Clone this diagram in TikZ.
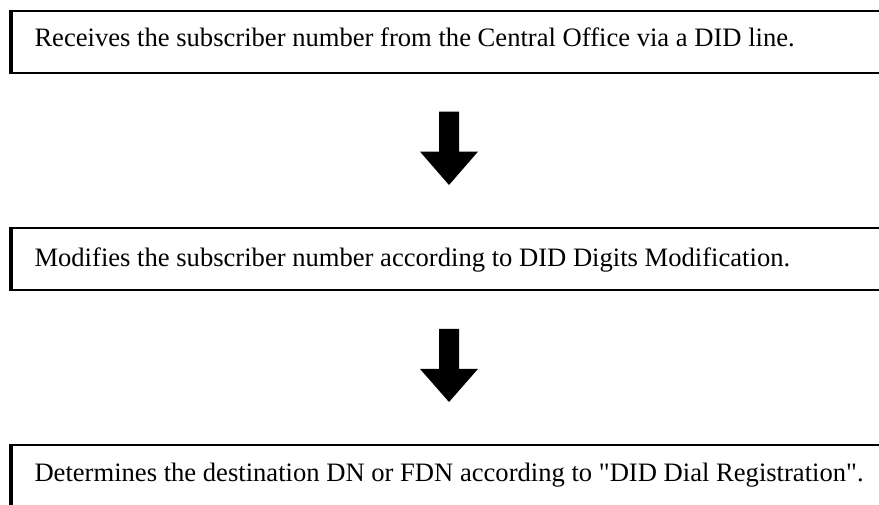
\documentclass[tikz,border=0pt]{standalone}
\usepackage{fontspec}
\setmainfont{Liberation Serif}
\usetikzlibrary{calc}
\tikzset{
  stepbox/.style={draw=black, line width=2.3pt, rectangle, minimum width=900pt, minimum height=62pt, inner sep=0pt, anchor=north west},
  steptext/.style={anchor=base west, inner sep=0pt, font=\fontsize{26.6pt}{30pt}\selectfont},
  blockarrow/.style={fill=black, draw=none},
}
\begin{document}
\begin{tikzpicture}[x=1pt,y=-1pt]
\useasboundingbox (0,0) rectangle (879,504);
\clip (0,0) rectangle (879,504);
\node[stepbox] (b1) at (11,9.5) {};
\node[stepbox] (b2) at (11,226.8) {};
\node[stepbox] (b3) at (11,443.8) {};
\foreach \b in {b1,b2,b3}{
  \draw[line width=3.3pt] (\b.north west) -- (\b.south west);
}
\node[steptext] (t1) at ($(b1.north west)+(23.3,37.2)$) {Receives the subscriber number from the Central Office via a DID line.};
\node[steptext] (t2) at ($(b2.north west)+(23.3,39.9)$) {Modifies the subscriber number according to DID Digits Modification.};
\node[steptext] (t3) at ($(b3.north west)+(23.3,37.9)$) {Determines the destination DN or FDN according to \textquotedbl DID Dial Registration\textquotedbl.};
\foreach \a/\c in {b1/b2,b2/b3}{
  \coordinate (top) at ($(\a.south west)+(438,37.8)$);
  \coordinate (tip) at ($(\c.north west)+(438,-41.8)$);
  \fill[blockarrow] ($(top)+(-10,0)$) -- ($(top)+(10,0)$) -- ($(top)+(10,40)$) -- ($(top)+(29,40)$) -- (tip) -- ($(top)+(-29,40)$) -- ($(top)+(-10,40)$) -- cycle;
}
\end{tikzpicture}
\end{document}
